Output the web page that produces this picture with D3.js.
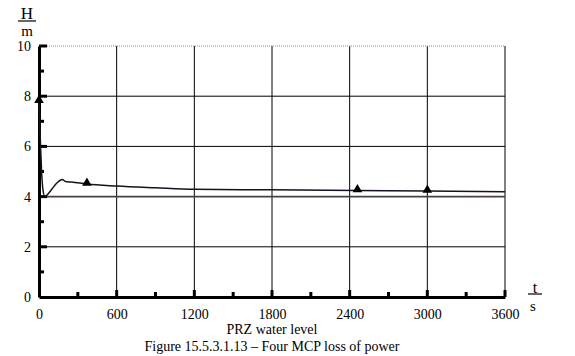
<!DOCTYPE html>
<html><head><meta charset="utf-8">
<script src="https://cdn.jsdelivr.net/npm/d3@7"></script>
<style>body{margin:0;background:#fff}svg{display:block}text{font-family:"Liberation Serif","Times New Roman",serif;fill:#000}</style>
</head><body><svg id="c" width="575" height="356"></svg>
<script>
const times = [0,5,12,20,30,45,60,100,140,180,205,250,370,600,900,1200,1800,2460,3000,3600];
const levels = [7.8,7.0,6.0,5.0,4.3,4.0,4.05,4.3,4.55,4.68,4.6,4.58,4.5,4.42,4.35,4.29,4.27,4.24,4.22,4.19];
const markerTimes = [0,370,2460,3000];
const markerLevels = [7.8,4.5,4.24,4.22];
const xTicks = [0,600,1200,1800,2400,3000,3600];
const yTicks = [0,2,4,6,8,10];
const xMinor = [300,900,1500,2100,2700,3300];
const yMinor = [1,3,5,7,9];

const svg = d3.select("#c");
const L=39,R=505,T=46,B=297;
const x = d3.scaleLinear().domain([0,3600]).range([L,R]);
const y = d3.scaleLinear().domain([0,10]).range([B,T]);
const g = svg.append("g");

// grid
g.selectAll(".vg").data(xTicks.slice(1)).join("line")
 .attr("x1",d=>x(d)).attr("x2",d=>x(d)).attr("y1",T).attr("y2",B).attr("stroke","#000").attr("stroke-width",1);
g.selectAll(".hg").data(yTicks.slice(1)).join("line")
 .attr("x1",L).attr("x2",R).attr("y1",d=>y(d)).attr("y2",d=>y(d))
 .attr("stroke",d=>d===4?"#4a4040":(d===10?"#888":"#000")).attr("stroke-width",d=>d===4?1.6:1)
 .attr("stroke-dasharray",d=>d===10?"1,1":null);
// axes
const xAxis = d3.axisBottom(x).tickValues(xTicks).tickFormat(d3.format("d")).tickSize(0).tickPadding(12);
const ga = g.append("g").attr("transform",`translate(0,${B})`).call(xAxis);
ga.select(".domain").attr("stroke-width",3);
ga.selectAll("text").style("font-family","Liberation Serif").style("font-size","14px").attr("dy","0.71em");
const yAxis = d3.axisLeft(y).tickValues(yTicks).tickFormat(d3.format("d")).tickSize(0).tickPadding(8);
const gy = g.append("g").attr("transform",`translate(${L},0)`).call(yAxis);
gy.select(".domain").attr("stroke-width",3);
gy.selectAll("text").style("font-family","Liberation Serif").style("font-size","14px");
// tick stubs
g.selectAll(".xt").data(xTicks.slice(1)).join("line")
 .attr("x1",d=>x(d)).attr("x2",d=>x(d)).attr("y1",B).attr("y2",B-7).attr("stroke","#000").attr("stroke-width",3);
g.selectAll(".xm").data(xMinor).join("line")
 .attr("x1",d=>x(d)).attr("x2",d=>x(d)).attr("y1",B).attr("y2",B-5).attr("stroke","#000").attr("stroke-width",3);
g.selectAll(".yt").data(yTicks.slice(1)).join("line")
 .attr("x1",L).attr("x2",L+8).attr("y1",d=>y(d)).attr("y2",d=>y(d)).attr("stroke","#000").attr("stroke-width",3);
g.selectAll(".ym").data(yMinor).join("line")
 .attr("x1",L).attr("x2",L+5).attr("y1",d=>y(d)).attr("y2",d=>y(d)).attr("stroke","#000").attr("stroke-width",3);

// curve
const data = times.map((t,i)=>[t,levels[i]]);
g.append("path").datum(data)
 .attr("d",d3.line().x(d=>x(d[0])).y(d=>y(d[1])).curve(d3.curveMonotoneX))
 .attr("fill","none").attr("stroke","#1a1020").attr("stroke-width",1.5);
const sym = d3.symbol().type(d3.symbolTriangle).size(40);
g.selectAll(".mk").data(markerTimes.map((t,i)=>[t,markerLevels[i]])).join("path")
 .attr("d",sym).attr("transform",d=>`translate(${x(d[0])},${y(d[1])-1})`).attr("fill","#000");

// labels
const lab=(tx,ty,s,sz,anchor)=>svg.append("text").attr("x",tx).attr("y",ty).attr("text-anchor",anchor||"middle").style("font-size",sz+"px").text(s);
lab(27,19,"H",17); svg.append("line").attr("x1",18).attr("x2",36).attr("y1",21).attr("y2",21).attr("stroke","#000").attr("stroke-width",1.2);
lab(27,36,"m",15);
lab(535,293,"t",16); svg.append("line").attr("x1",528).attr("x2",542).attr("y1",294).attr("y2",294).attr("stroke","#000").attr("stroke-width",1.2);
lab(533,311,"s",15);
lab(272,334,"PRZ water level",14);
lab(272,351,"Figure 15.5.3.1.13 – Four MCP loss of power",14);
</script></body></html>
